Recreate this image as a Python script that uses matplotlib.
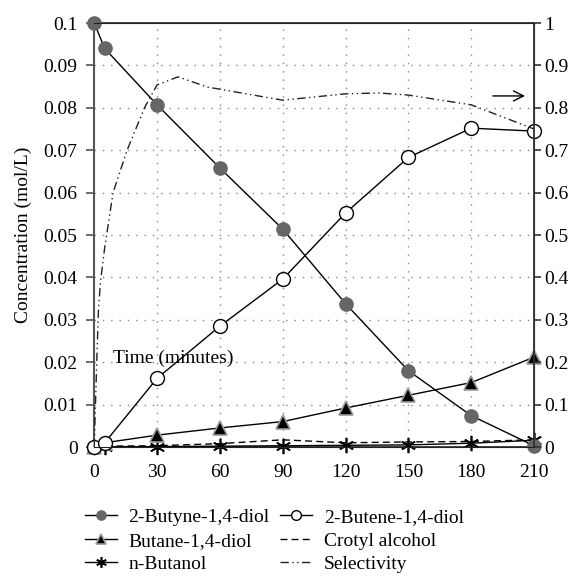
import matplotlib
matplotlib.use("Agg")
import matplotlib.pyplot as plt

plt.rcParams['font.family'] = ['Liberation Serif', 'DejaVu Serif']
plt.rcParams['font.size'] = 14

time = [0, 5, 30, 60, 90, 120, 150, 180, 210]
butyne = [0.1, 0.0940, 0.0807, 0.0658, 0.0514, 0.0338, 0.0180, 0.0074, 0.0003]
butene = [0.0, 0.0010, 0.0162, 0.0285, 0.0396, 0.0552, 0.0683, 0.0752, 0.0745]
butane = [0.0, 0.0010, 0.0028, 0.0045, 0.0060, 0.0092, 0.0122, 0.0152, 0.0212]
crotyl = [0.0, 0.0002, 0.0003, 0.0008, 0.0017, 0.0010, 0.0012, 0.0013, 0.0017]
butanol = [0.0, 0.0, 0.0001, 0.0002, 0.0003, 0.0004, 0.0005, 0.0009, 0.0016]

sel_time = [0, 1.2, 2, 3, 5, 9, 15.7, 24, 30, 40, 54, 90, 120, 136, 150, 180, 210]
selectivity = [0.0, 0.2, 0.32, 0.39, 0.47, 0.6, 0.7, 0.8, 0.854, 0.873, 0.849,
               0.818, 0.833, 0.835, 0.83, 0.807, 0.75]

xticks = [0, 30, 60, 90, 120, 150, 180, 210]
yticks_left = [0, 0.01, 0.02, 0.03, 0.04, 0.05, 0.06, 0.07, 0.08, 0.09, 0.1]
yticklabels_left = ['0', '0.01', '0.02', '0.03', '0.04', '0.05', '0.06', '0.07', '0.08', '0.09', '0.1']
yticks_right = [0, 0.1, 0.2, 0.3, 0.4, 0.5, 0.6, 0.7, 0.8, 0.9, 1.0]
yticklabels_right = ['0', '0.1', '0.2', '0.3', '0.4', '0.5', '0.6', '0.7', '0.8', '0.9', '1']

fig = plt.figure(figsize=(5.78, 5.81), dpi=100)
ax = fig.add_axes([0.163, 0.2306, 0.761, 0.7298])
ax2 = ax.twinx()

ax.set_xlim(0, 210)
ax.set_ylim(0, 0.1)
ax2.set_ylim(0, 1)

grid_style = dict(color='#888888', linestyle=(0, (1, 5)), linewidth=1.0)
for x in xticks[1:-1]:
    ax.axvline(x, zorder=0, **grid_style)
for y in yticks_left[1:-1]:
    ax.axhline(y, zorder=0, **grid_style)

h_sel, = ax2.plot(sel_time, selectivity, color='#222222', lw=1.0,
                  dashes=(6, 2.5, 1, 2.5, 1, 2.5), label='Selectivity', clip_on=False)

h_cro, = ax.plot(time, crotyl, color='black', lw=1.0, dashes=(5, 3), label='Crotyl alcohol', zorder=3)
h_bol, = ax.plot(time, butanol, color='black', lw=1.0, marker=(6, 2, 0), ms=11, mew=1.2,
                 label='n-Butanol', clip_on=False, zorder=4)
h_bud, = ax.plot(time, butane, color='black', lw=1.0, marker='^', ms=10, mfc='black',
                 mec='#999999', mew=1.2, label='Butane-1,4-diol', clip_on=False, zorder=5)
h_bte, = ax.plot(time, butene, color='black', lw=1.0, marker='o', ms=10, mfc='white',
                 mec='black', mew=1.0, label='2-Butene-1,4-diol', clip_on=False, zorder=5)
h_byn, = ax.plot(time, butyne, color='black', lw=1.0, marker='o', ms=9.5, mfc='#666666',
                 mec='#666666', label='2-Butyne-1,4-diol', clip_on=False, zorder=6)

ax.set_xticks(xticks)
ax.set_yticks(yticks_left)
ax.set_yticklabels(yticklabels_left)
ax2.set_yticks(yticks_right)
ax2.set_yticklabels(yticklabels_right)

ax.tick_params(axis='x', length=0, pad=12, labelsize=14)
ax.tick_params(axis='y', direction='out', length=6, width=1.2, color='#555555', pad=6, labelsize=14)
ax2.tick_params(axis='y', direction='out', length=5, width=1.2, color='#333333', pad=2, labelsize=14)
ax.tick_params(top=False, right=False)

ax.spines['left'].set_color('#555555')
ax.spines['left'].set_linewidth(1.5)
ax2.spines['left'].set_visible(False)
ax2.spines['right'].set_color('#333333')
ax2.spines['right'].set_linewidth(1.3)
for s in ['top', 'bottom']:
    ax.spines[s].set_color('#222222')
    ax.spines[s].set_linewidth(1.2)
ax2.spines['top'].set_color('#222222')
ax2.spines['bottom'].set_color('#222222')

ax.set_ylabel('Concentration (mol/L)', fontsize=14, labelpad=8)

ax.text(9, 0.021, 'Time (minutes)', fontsize=14, va='center', ha='left', zorder=7)

ax2.annotate('', xy=(207, 0.828), xytext=(189, 0.828),
             arrowprops=dict(arrowstyle='->', color='black', lw=1.0, mutation_scale=18))

handles = [h_byn, h_bud, h_bol, h_bte, h_cro, h_sel]
fig.legend(handles=handles, labels=[h.get_label() for h in handles], ncol=2,
           loc='upper left', bbox_to_anchor=(0.133, 0.138), frameon=False,
           fontsize=14, handlelength=1.65, handletextpad=0.6, columnspacing=0.55,
           labelspacing=0.3, borderaxespad=0, markerscale=0.7)

fig.savefig('out.png', dpi=100)
